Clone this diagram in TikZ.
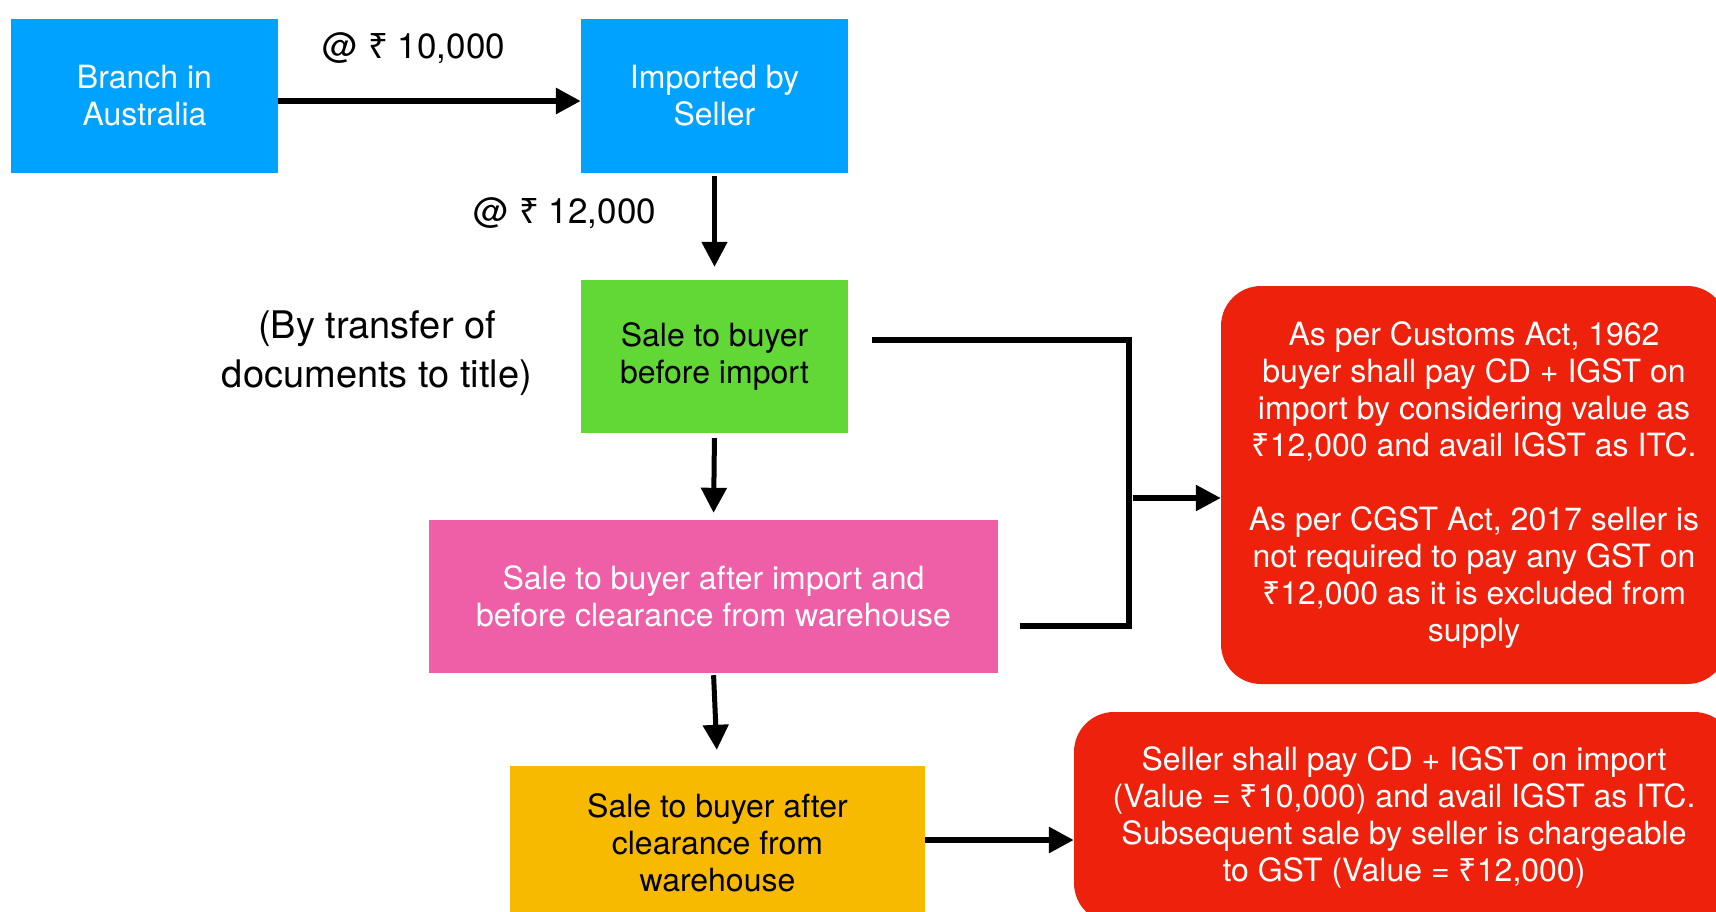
\documentclass[tikz,border=0pt]{standalone}
\usepackage{fontspec}
\setmainfont{TeX Gyre Heros}
\newfontfamily\rupeefont{Noto Sans}
\newcommand{\Rs}{{\rupeefont\symbol{"20B9}}}
\usetikzlibrary{arrows.meta}

\definecolor{kblue}{HTML}{00A2FF}
\definecolor{kgreen}{HTML}{61D836}
\definecolor{kpink}{HTML}{EF5FA7}
\definecolor{kyellow}{HTML}{F8BA00}
\definecolor{kred}{HTML}{EE220C}

\tikzset{
  box/.style={rectangle, inner sep=0pt, align=center,
    font=\fontsize{32}{37}\selectfont},
  note/.style={box, fill=kred, text=white, rounded corners=40pt},
  label/.style={inner sep=0pt, align=center, font=\fontsize{35}{40}\selectfont},
  conn/.style={line width=6pt},
  arr/.style={conn, -{Triangle[length=25pt,width=25pt]}},
  downarr/.style={arr, line width=5pt},
}

\begin{document}
\begin{tikzpicture}[x=1pt,y=-1pt]
\useasboundingbox (0,0) rectangle (1716,911);

% process boxes
\node[box, fill=kblue, text=white, minimum width=267pt, minimum height=154pt]
  (branch) at (144.5,96) {Branch in\\Australia};
\node[box, fill=kblue, text=white, minimum width=267pt, minimum height=154pt]
  (imported) at (714.5,96) {Imported by\\Seller};
\node[box, fill=kgreen, minimum width=267pt, minimum height=153pt]
  (before) at (714.5,356.5) {Sale to buyer\\before import};
\node[box, fill=kpink, text=white, minimum width=569pt, minimum height=153pt]
  (warehouse) at (713.5,596.5) {Sale to buyer after import and\\before clearance from warehouse};
\node[box, fill=kyellow, minimum width=415pt, minimum height=154pt]
  (after) at (717.5,843) {Sale to buyer after\\clearance from\\warehouse};

% explanatory notes
\node[note, minimum width=506pt, minimum height=398pt]
  (customs) at (1474,485) {As per Customs Act, 1962\\buyer shall pay CD + IGST on\\import by considering value as\\\Rs12,000 and avail IGST as ITC.\\[37pt]As per CGST Act, 2017 seller is\\not required to pay any GST on\\\Rs12,000 as it is excluded from\\supply};
\node[note, minimum width=660pt, minimum height=211pt]
  (seller) at (1404,817.5) {Seller shall pay CD + IGST on import\\(Value = \Rs10,000) and avail IGST as ITC.\\Subsequent sale by seller is chargeable\\to GST (Value = \Rs12,000)};

% labels
\node[label] (price1) at (414,48) {@ \Rs\ 10,000};
\node[label] (price2) at (565,213) {@ \Rs\ 12,000};
\node[label, font=\fontsize{38}{49}\selectfont] (transfer) at (377,353) {(By transfer of\\documents to title)};

% connectors
\draw[arr] ([yshift=-5pt]branch.east) -- ([yshift=-5pt]imported.west);
\draw[downarr, shorten <=3pt, shorten >=13pt] (imported.south) -- (before.north);
\draw[downarr, shorten <=5pt, shorten >=7pt] (before.south) -- (warehouse.north);
\draw[downarr, shorten <=2pt, shorten >=16pt] (warehouse.south) -- (after.north);
\coordinate (a) at ([yshift=3pt]after.east);
\draw[arr] (a) -- (seller.west |- a);

% bracket joining the two sale cases
\coordinate (g) at ([xshift=24pt,yshift=16.5pt]before.east);
\coordinate (p) at ([xshift=22pt,yshift=-29.5pt]warehouse.east);
\coordinate (bx) at (1129,0);
\draw[conn, line width=5.5pt] (g) -| (bx |- p) -- (p);
\coordinate (m) at (1133,498);
\draw[arr, line width=5.5pt] (m) -- (customs.west |- m);
\end{tikzpicture}
\end{document}
